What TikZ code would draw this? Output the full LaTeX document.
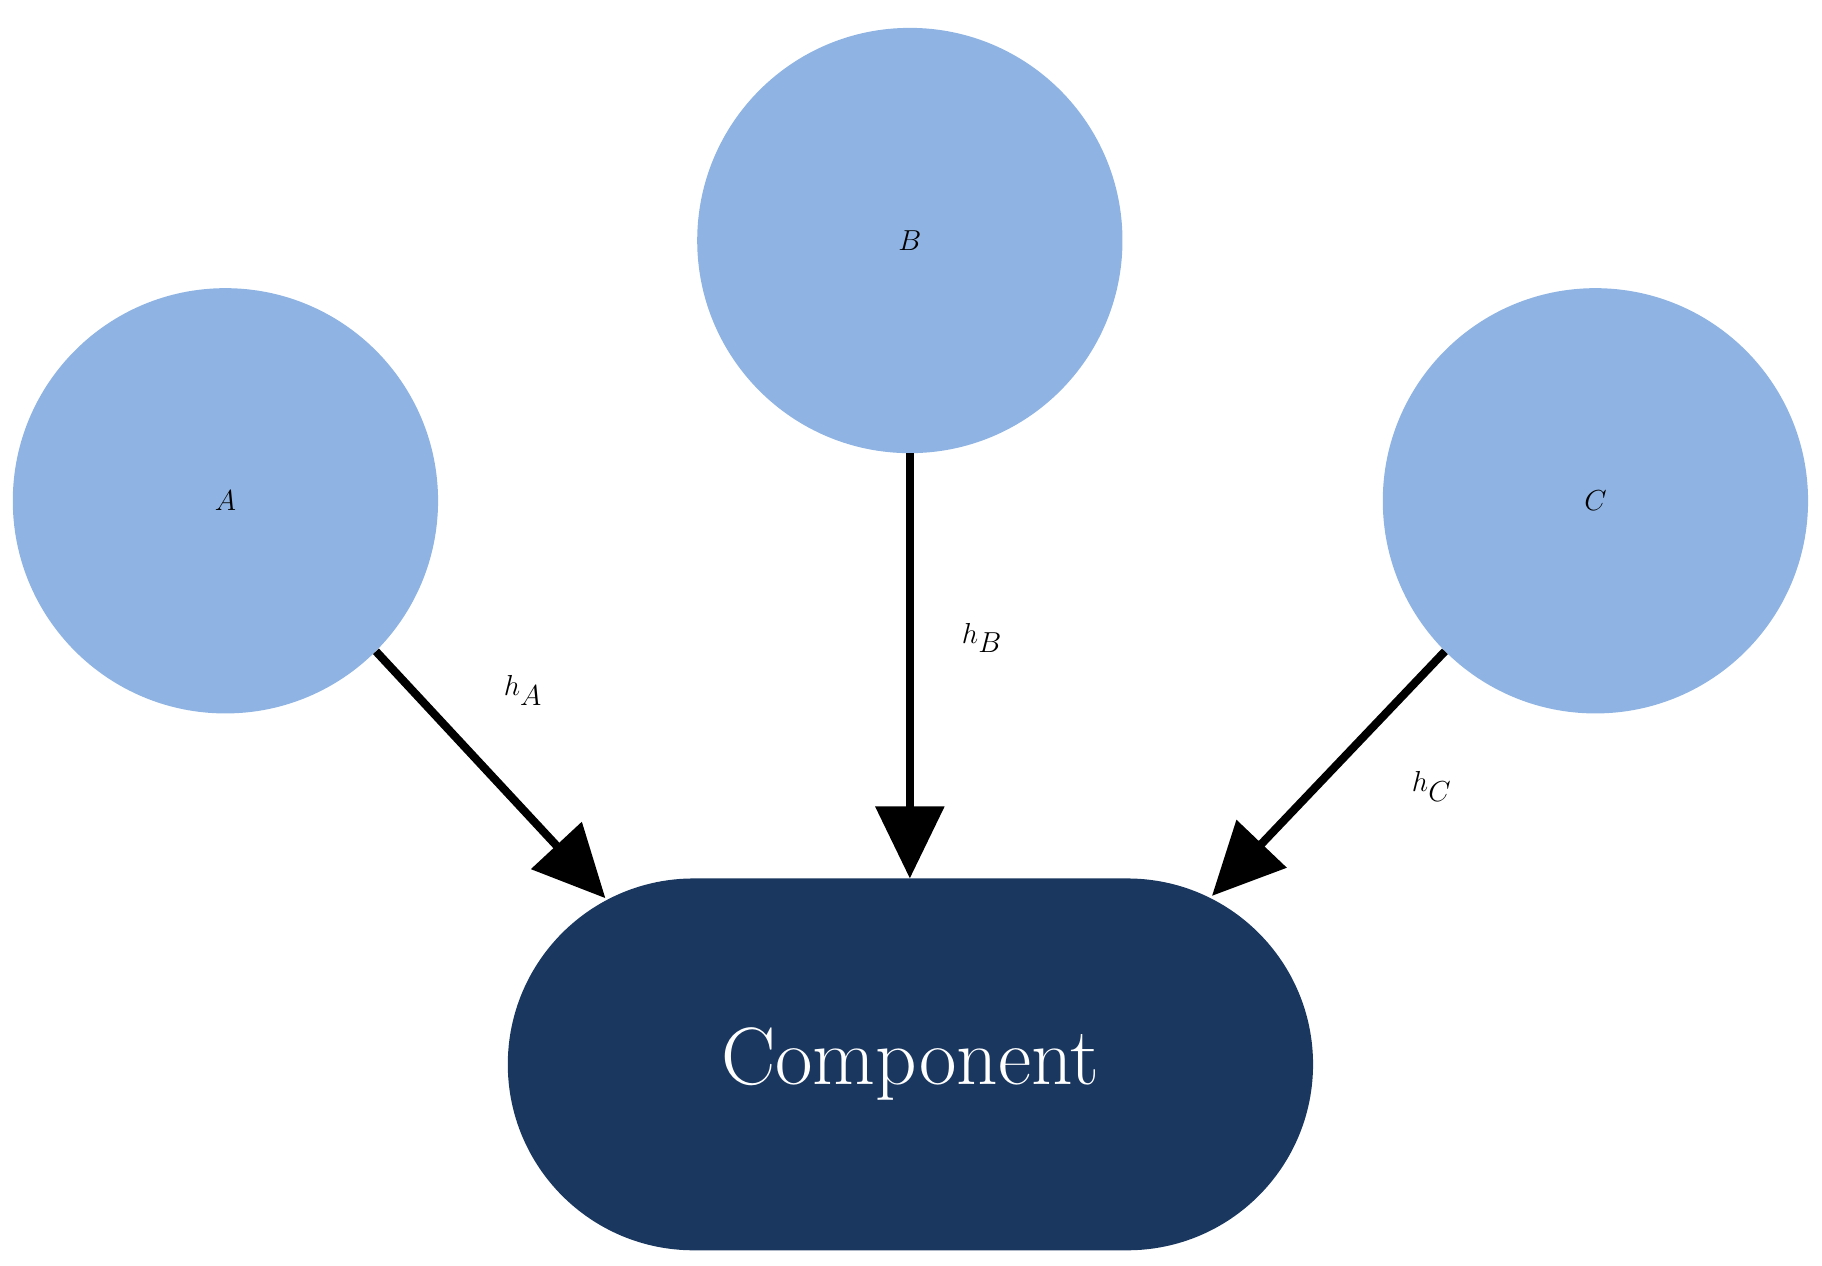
\documentclass[tikz,border=0pt]{standalone}
\usetikzlibrary{arrows.meta}
\definecolor{lb}{HTML}{8FB4E3}
\definecolor{navy}{HTML}{1A3760}
\begin{document}
\begin{tikzpicture}[x=1pt,y=1pt,
  circ/.style={circle,fill=lb,minimum size=366pt,inner sep=0pt,font=\fontsize{76}{80}\selectfont},
  arr/.style={line width=7pt,-{Triangle[length=62pt,width=58pt]}},
  lab/.style={font=\fontsize{76}{80}\selectfont}]
\useasboundingbox (0,0) rectangle (1568,1089);
\node[circ] (A) at (194,658) {$A$};
\node[circ] (B) at (783,882) {$B$};
\node[circ] (C) at (1373,658) {$C$};
\node[fill=navy,minimum width=693pt,minimum height=320pt,rounded corners=160pt,text=white,font=\fontsize{70}{74}\selectfont] (K) at (783.5,173) {Component};
\coordinate (tA) at (521,316);
\coordinate (tB) at (783,333);
\coordinate (tC) at (1043,318);
\draw[arr] (A.-45) -- (tA);
\draw[arr] (B.south) -- (tB);
\draw[arr] (C.-135) -- (tC);
\node[lab] (hA) at (450,495) {$h_A$};
\node[lab] (hB) at (845,540) {$h_B$};
\node[lab] (hC) at (1232,412) {$h_C$};
\end{tikzpicture}
\end{document}
